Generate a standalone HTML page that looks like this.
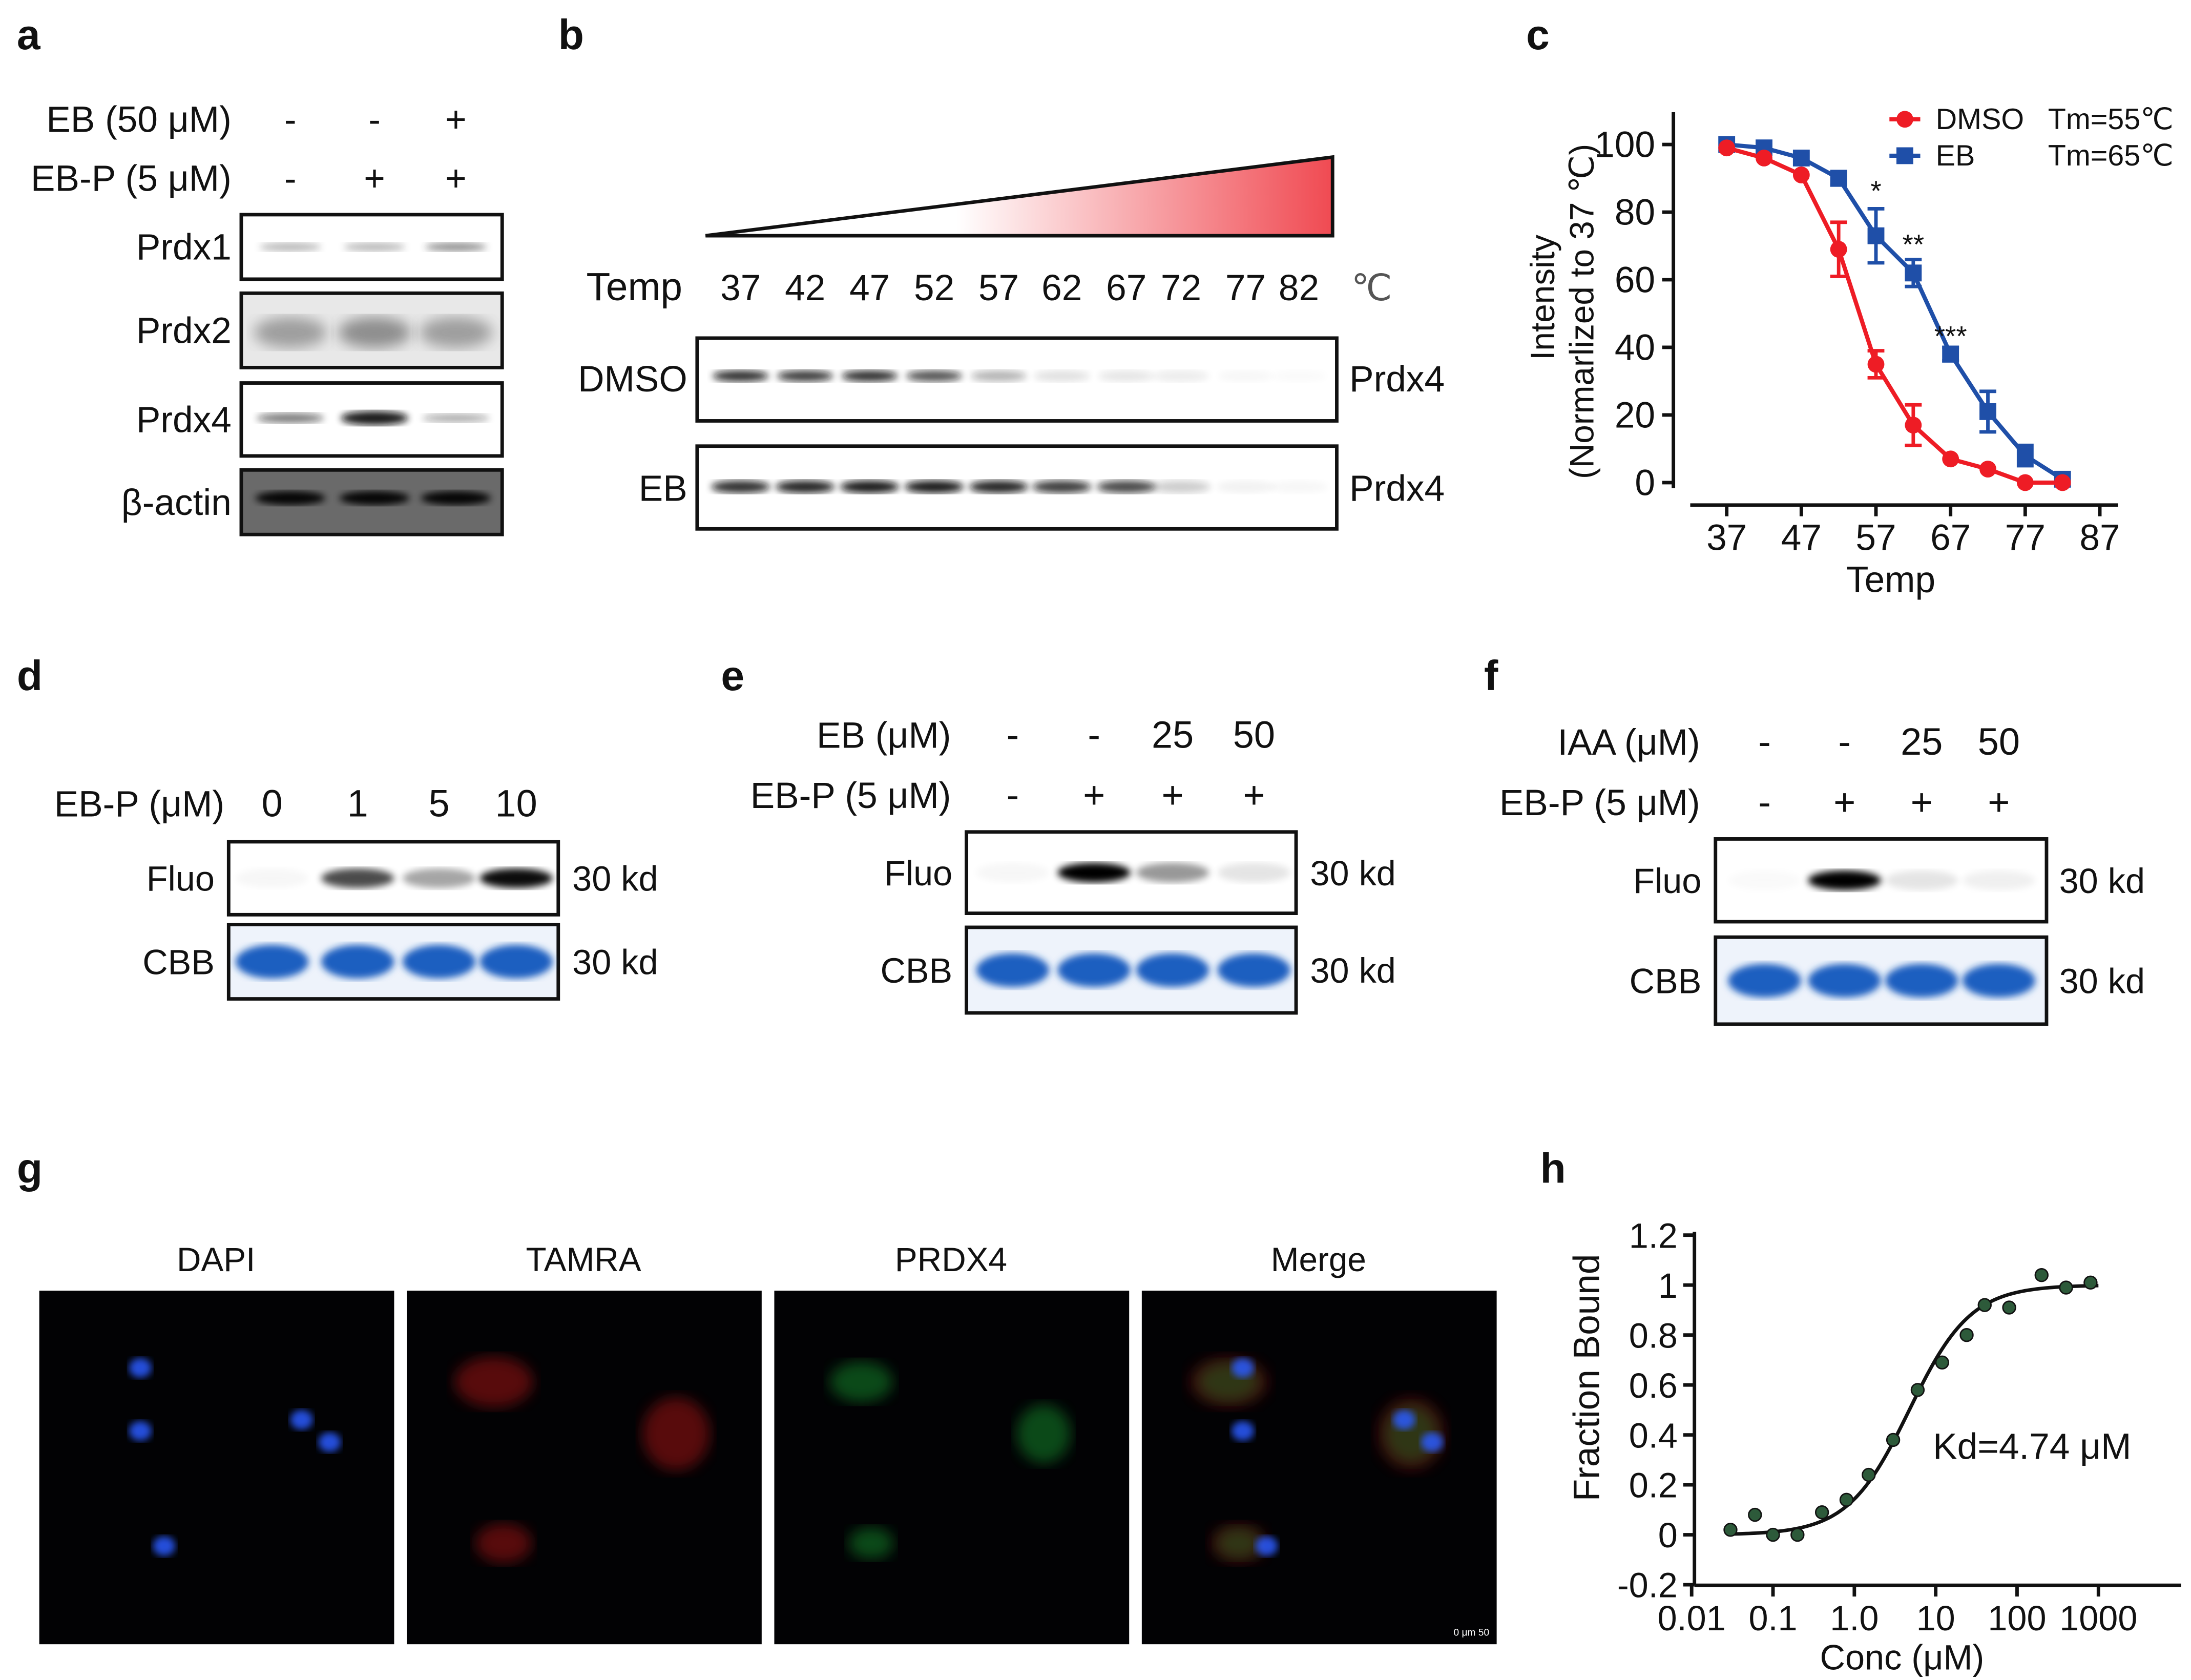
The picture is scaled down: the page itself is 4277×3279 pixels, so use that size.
<!DOCTYPE html>
<html><head><meta charset="utf-8"><style>
html,body{margin:0;padding:0;background:#fff;}
svg{display:block;font-family:"Liberation Sans",sans-serif;}
</style></head><body>
<svg id="fig" width="4277" height="3279" viewBox="0 0 1562 1197.5" preserveAspectRatio="none" xmlns="http://www.w3.org/2000/svg">
<defs>
<linearGradient id="tri" x1="0" x2="1" y1="0" y2="0"><stop offset="0" stop-color="#fff"/><stop offset="0.4" stop-color="#fff"/><stop offset="1" stop-color="#f04a52"/></linearGradient>
<filter id="blur2"><feGaussianBlur stdDeviation="2.5"/></filter>
<filter id="blur4"><feGaussianBlur stdDeviation="5"/></filter>
<filter id="blur8"><feGaussianBlur stdDeviation="9"/></filter>
</defs>
<g id="root"></g>
</svg>
<script>
// ---- Panel c data ----
const cTemps = [37,42,47,52,57,62,67,72,77,82];
const cDmso = [99,96,91,69,35,17,7,4,0,0];
const cDmsoErr = [1,1,1,8,4,6,1,1,1,1];
const cEb = [100,99,96,90,73,62,38,21,8,1];
const cEbErr = [1,1,1,2,8,4,2,6,3,1];
const cXTicks = [37,47,57,67,77,87];
const cYTicks = [0,20,40,60,80,100];
// ---- Panel h data ----
const hConc = [0.03,0.06,0.1,0.2,0.4,0.8,1.5,3,6,12,24,40,80,200,400,800];
const hFrac = [0.02,0.08,0,0,0.09,0.14,0.24,0.38,0.58,0.69,0.8,0.92,0.91,1.04,0.99,1.01];
const hYTicks = [1.2,1,0.8,0.6,0.4,0.2,0,-0.2];
const hYLabels = ["1.2","1","0.8","0.6","0.4","0.2","0","-0.2"];
const hXTicks = [0.01,0.1,1,10,100,1000];
const hXLabels = ["0.01","0.1","1.0","10","100","1000"];
const hKd = 4.74;

const NS="http://www.w3.org/2000/svg";
const root=document.getElementById('root');
function el(tag,attrs,parent){const e=document.createElementNS(NS,tag);for(const k in attrs)e.setAttribute(k,attrs[k]);(parent||root).appendChild(e);return e;}
function txt(x,y,s,size,anchor,parent,extra){const t=el('text',Object.assign({x:x,y:y,'font-size':size||24,'text-anchor':anchor||'start',fill:'#111'},extra||{}),parent);t.textContent=s;return t;}

[['a',12,35],['b',398,35],['c',1088,35],['d',12,492],['e',514,492],['f',1058,492],['g',12,843],['h',1098,843]].forEach(p=>{
 const t=txt(p[1],p[2],p[0],30,'start',root,{'font-weight':'bold'});
 
 
});

function blot(x,y,w,h,name,bg){const g=el('g',{});
 el('rect',{x:x,y:y,width:w,height:h,fill:bg||'#fff',stroke:'#111','stroke-width':2.5},g);return g;}
function band(g,cx,cy,w,h,color,op,f){el('ellipse',{cx:cx,cy:cy,rx:w/2,ry:h/2,fill:color,opacity:op,filter:'url(#'+(f||'blur2')+')'},g);}

// ---- Panel a ----
(function(){
 const g=el('g',{});
 txt(165,94,'EB (50 μM)',26,'end',g);txt(165,136,'EB-P (5 μM)',26,'end',g);
 const xs=[207,267,325];['-','-','+'].forEach((s,i)=>txt(xs[i],94,s,26,'middle',g));['-','+','+'].forEach((s,i)=>txt(xs[i],136,s,26,'middle',g));
 const rows=[['Prdx1',153,46],['Prdx2',209,53],['Prdx4',273,52],['β-actin',335,46]];
 rows.forEach(r=>{txt(165,r[1]+r[2]/2+9,r[0],26,'end',g);});
 let b=blot(172,153,186,46,'blot-prdx1');[[207,.35],[267,.35],[325,.55]].forEach(p=>band(b,p[0],176,44,6,'#333',p[1]));
 b=blot(172,209,186,53,'blot-prdx2','#e8e8e8');[[207,.45],[267,.55],[325,.45]].forEach(p=>band(b,p[0],237,52,22,'#444',p[1],'blur4'));
 b=blot(172,273,186,52,'blot-prdx4');[[207,.55,7],[267,.95,10],[325,.35,6]].forEach(p=>band(b,p[0],298,48,p[2],'#111',p[1]));
 b=blot(172,335,186,46,'blot-actin','#6a6a6a');[207,267,325].forEach(x=>band(b,x,355,50,10,'#000',.95));
})();

// ---- Panel b ----
(function(){
 const g=el('g',{});
 el('polygon',{points:'503,168 950,112 950,168',fill:'url(#tri)',stroke:'#111','stroke-width':2.5},g);
 txt(418,214,'Temp',28,'start',g);
 const xs=[528,574,620,666,712,757,803,842,888,926];const ts=[37,42,47,52,57,62,67,72,77,82];
 ts.forEach((t,i)=>txt(xs[i],214,String(t),26,'middle',g));txt(978,214,'℃',26,'middle',g,{fill:'#555'});
 txt(490,279,'DMSO',26,'end',g);txt(490,357,'EB',26,'end',g);
 txt(962,279,'Prdx4',26,'start',g);txt(962,357,'Prdx4',26,'start',g);
 let b=blot(497,241,456,59,'blot-dmso-prdx4');
 [.85,.8,.85,.7,.3,.12,.1,.08,.03,.02].forEach((o,i)=>band(b,xs[i],268,40,8,'#111',o));
 b=blot(497,318,456,59,'blot-eb-prdx4');
 [.85,.9,.95,.95,.9,.8,.75,.2,.05,.03].forEach((o,i)=>band(b,xs[i],347,42,9,'#111',o));
})();

// ---- Panel c chart ----
(function(){
 const g=el('g',{});
 const X=t=>1231+(t-37)*5.32, Y=v=>344-2.41*v;
 const ya=el('line',{x1:1193,y1:80,x2:1193,y2:348,stroke:'#111','stroke-width':2.5},g);
 const xa=el('line',{x1:1205,y1:360,x2:1510,y2:360,stroke:'#111','stroke-width':2.5},g);
 cYTicks.forEach(v=>{el('line',{x1:1185,x2:1193,y1:Y(v),y2:Y(v),stroke:'#111','stroke-width':2.5},g);const t=txt(1180,Y(v)+9,String(v),26,'end',g);});
 cXTicks.forEach(v=>{el('line',{x1:X(v),x2:X(v),y1:360,y2:368,stroke:'#111','stroke-width':2.5},g);const t=txt(X(v),392,String(v),26,'middle',g);});
 const xt=txt(1348,422,'Temp',26,'middle',g);
 const yt=txt(0,0,'Intensity',24,'middle',g,{transform:'translate(1108,212) rotate(-90)'});
 txt(0,0,'(Normarlized to 37 ℃)',24,'middle',g,{transform:'translate(1136,222) rotate(-90)'});
 function series(vals,errs,color,marker,name){
  const sg=el('g',{},g);
  el('polyline',{points:cTemps.map((t,i)=>X(t)+','+Y(vals[i])).join(' '),fill:'none',stroke:color,'stroke-width':3},sg);
  cTemps.forEach((t,i)=>{
   if(errs[i]>1){el('line',{x1:X(t),x2:X(t),y1:Y(vals[i]+errs[i]),y2:Y(vals[i]-errs[i]),stroke:color,'stroke-width':2.5},sg);
    [vals[i]+errs[i],vals[i]-errs[i]].forEach(v=>el('line',{x1:X(t)-6,x2:X(t)+6,y1:Y(v),y2:Y(v),stroke:color,'stroke-width':2.5},sg));}
   let m;
   if(marker==='c')m=el('circle',{cx:X(t),cy:Y(vals[i]),r:6,fill:color},sg);
   else m=el('rect',{x:X(t)-6,y:Y(vals[i])-6,width:12,height:12,fill:color},sg);
   
  });
 }
 series(cEb,cEbErr,'#1f4fa8','s','series-eb');
 series(cDmso,cDmsoErr,'#ee1c25','c','series-dmso');
 txt(X(57),Y(cEb[4]+cEbErr[4])-6,'*',20,'middle',g);
 txt(X(62),Y(cEb[5]+cEbErr[5])-4,'**',20,'middle',g);
 txt(X(67),Y(cEb[6])-6,'***',20,'middle',g);
 const lg=el('g',{},g);
 el('line',{x1:1347,x2:1369,y1:85,y2:85,stroke:'#ee1c25','stroke-width':3},lg);el('circle',{cx:1358,cy:85,r:6,fill:'#ee1c25'},lg);
 txt(1380,92,'DMSO',21,'start',lg);txt(1460,92,'Tm=55℃',21,'start',lg);
 el('line',{x1:1347,x2:1369,y1:111,y2:111,stroke:'#1f4fa8','stroke-width':3},lg);el('rect',{x:1352,y:105,width:12,height:12,fill:'#1f4fa8'},lg);
 txt(1380,118,'EB',21,'start',lg);txt(1460,118,'Tm=65℃',21,'start',lg);
})();

// ---- Panels d, e, f ----
function gelPanel(name,labelX,rows,xs,fluoBox,cbbBox,fluoOps,kdX){
 const g=el('g',{});
 rows.forEach(r=>{txt(labelX,r.y,r.label,26,'end',g);r.vals.forEach((v,i)=>txt(xs[i],r.y,v,27,'middle',g));});
 let b=blot(fluoBox[0],fluoBox[1],fluoBox[2],fluoBox[3],name+'-fluo-blot');
 const cy=fluoBox[1]+fluoBox[3]/2;
 fluoOps.forEach((o,i)=>band(b,xs[i],cy,52,14,'#000',o));
 txt(fluoBox[0]-10,cy+9,'Fluo',25,'end',g);txt(kdX,cy+9,'30 kd',25,'start',g);
 b=blot(cbbBox[0],cbbBox[1],cbbBox[2],cbbBox[3],name+'-cbb-gel','#eef3fb');
 const cy2=cbbBox[1]+cbbBox[3]/2;
 xs.forEach(x=>band(b,x,cy2,52,24,'#1f5fc0',1,'blur2'));
 txt(cbbBox[0]-10,cy2+9,'CBB',25,'end',g);txt(kdX,cy2+9,'30 kd',25,'start',g);
}
gelPanel('panel-d',160,[{y:582,label:'EB-P (μM)',vals:['0','1','5','10']}],[194,255,313,368],[163,600,235,52],[163,659,235,53],[0.03,0.7,0.35,0.95],408);
gelPanel('panel-e',678,[{y:533,label:'EB (μM)',vals:['-','-','25','50']},{y:576,label:'EB-P (5 μM)',vals:['-','+','+','+']}],[722,780,836,894],[689,593,235,58],[689,661,235,61],[0.03,1,0.4,0.1],934);
gelPanel('panel-f',1212,[{y:538,label:'IAA (μM)',vals:['-','-','25','50']},{y:581,label:'EB-P (5 μM)',vals:['-','+','+','+']}],[1258,1315,1370,1425],[1223,598,236,59],[1223,668,236,62],[0.02,1,0.1,0.06],1468);

// ---- Panel g ----
(function(){
 const g=el('g',{});
 const xs=[28,290,552,814],titles=['DAPI','TAMRA','PRDX4','Merge'];
 const nuclei=[[100,975],[100,1020],[215,1012],[235,1028],[117,1102]];
 const cells=[[90,985,28,18],[220,1022,24,26],[97,1100,20,14]];
 xs.forEach((x0,k)=>{
  txt(x0+126,906,titles[k],24,'middle',g);
  const im=el('g',{},g);
  el('rect',{x:x0,y:920,width:253,height:252,fill:'#020204'},im);
  const dx=x0-28;
  if(k===1||k===3)cells.forEach(c=>el('ellipse',{cx:c[0]+dx,cy:c[1],rx:c[2],ry:c[3],fill:'#c01818',opacity:k===3?.3:.45,filter:'url(#blur4)'},im));
  if(k===2||k===3)cells.forEach(c=>el('ellipse',{cx:c[0]+dx,cy:c[1],rx:c[2]*.8,ry:c[3]*.8,fill:'#18a030',opacity:k===3?.3:.45,filter:'url(#blur4)'},im));
  if(k===0||k===3)nuclei.forEach(n=>el('ellipse',{cx:n[0]+dx,cy:n[1],rx:8,ry:7,fill:'#2a5cff',opacity:.85,filter:'url(#blur2)'},im));
  if(k===3)txt(x0+235,1166,'0   μm   50',7,'middle',im,{fill:'#fff'});
 });
})();

// ---- Panel h chart ----
(function(){
 const g=el('g',{});
 const X=c=>1322+58*Math.log10(c), Y=v=>1094-178*v;
 const ya=el('line',{x1:1208,y1:878,x2:1208,y2:1130,stroke:'#111','stroke-width':2.5},g);
 const xa=el('line',{x1:1208,y1:1130,x2:1555,y2:1130,stroke:'#111','stroke-width':2.5},g);
 hYTicks.forEach((v,i)=>{el('line',{x1:1200,x2:1208,y1:Y(v),y2:Y(v),stroke:'#111','stroke-width':2.5},g);const t=txt(1196,Y(v)+9,hYLabels[i],25,'end',g);});
 hXTicks.forEach((v,i)=>{el('line',{x1:X(v),x2:X(v),y1:1130,y2:1138,stroke:'#111','stroke-width':2.5},g);const t=txt(X(v),1162,hXLabels[i],25,'middle',g);});
 const xt=txt(1356,1190,'Conc (μM)',25,'middle',g);
 const yt=txt(0,0,'Fraction Bound',26,'middle',g,{transform:'translate(1140,982) rotate(-90)'});
 const pts=[];for(let i=0;i<=120;i++){const c=Math.pow(10,Math.log10(0.03)+i*(Math.log10(1000)-Math.log10(0.03))/120);const f=Math.pow(c,1.15)/(Math.pow(c,1.15)+Math.pow(hKd,1.15));pts.push(X(c)+','+Y(f));}
 const fit=el('polyline',{points:pts.join(' '),fill:'none',stroke:'#111','stroke-width':2.5},g);
 hConc.forEach((c,i)=>{const p=el('circle',{cx:X(c),cy:Y(hFrac[i]),r:4.5,fill:'#2d5a3a',stroke:'#111','stroke-width':1},g);});
 const kd=txt(1378,1040,'Kd='+hKd+' μM',26,'start',g);
})();
</script>
</body></html>
